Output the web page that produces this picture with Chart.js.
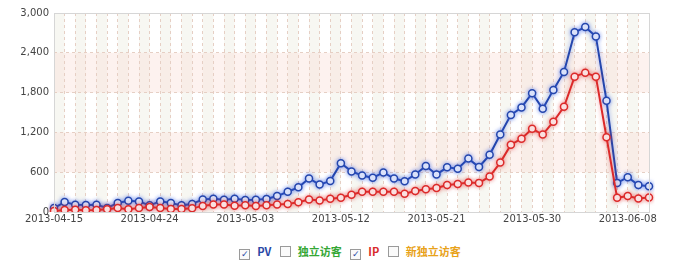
<!DOCTYPE html>
<html>
<head>
<meta charset="utf-8">
<script src="https://cdn.jsdelivr.net/npm/chart.js@4.4.1/dist/chart.umd.min.js"></script>
<style>
  html, body { margin: 0; padding: 0; background: #fff; }
  #wrap { position: relative; width: 700px; height: 226px; }
  #legend {
    position: absolute; top: 243px; left: 0; width: 700px; text-align: center;
    font-family: "Noto Sans CJK SC", "DejaVu Sans", sans-serif; font-size: 11px; font-weight: bold;
  }
  #legend .item { margin: 0 3px; white-space: nowrap; }
  #legend .box {
    display: inline-block; width: 9px; height: 9px; border: 1px solid #9a9a9a; background: #fafafa;
    margin-right: 7px; vertical-align: -1px; font-size: 9px; line-height: 9px; text-align: center;
    color: #2a47a6; font-family: "DejaVu Sans", sans-serif; font-weight: normal;
  }
</style>
</head>
<body>
<div id="wrap"><canvas id="chart"></canvas></div>
<div id="legend">
  <span class="item" style="color:#2a47a6"><span class="box">✓</span>PV</span>
  <span class="item" style="color:#35a735"><span class="box"></span>独立访客</span>
  <span class="item" style="color:#d92b2b"><span class="box">✓</span>IP</span>
  <span class="item" style="color:#e8a21a"><span class="box"></span>新独立访客</span>
</div>
<script>
// daily dates, 2013-04-15 .. 2013-06-10
const dates = [
  "2013-04-15", "2013-04-16", "2013-04-17", "2013-04-18", "2013-04-19", "2013-04-20", "2013-04-21", "2013-04-22",
  "2013-04-23", "2013-04-24", "2013-04-25", "2013-04-26", "2013-04-27", "2013-04-28", "2013-04-29", "2013-04-30",
  "2013-05-01", "2013-05-02", "2013-05-03", "2013-05-04", "2013-05-05", "2013-05-06", "2013-05-07", "2013-05-08",
  "2013-05-09", "2013-05-10", "2013-05-11", "2013-05-12", "2013-05-13", "2013-05-14", "2013-05-15", "2013-05-16",
  "2013-05-17", "2013-05-18", "2013-05-19", "2013-05-20", "2013-05-21", "2013-05-22", "2013-05-23", "2013-05-24",
  "2013-05-25", "2013-05-26", "2013-05-27", "2013-05-28", "2013-05-29", "2013-05-30", "2013-05-31", "2013-06-01",
  "2013-06-02", "2013-06-03", "2013-06-04", "2013-06-05", "2013-06-06", "2013-06-07", "2013-06-08", "2013-06-09",
  "2013-06-10"
]

const pvValues = [
  60, 150, 110, 105, 110, 60, 135, 170, 160, 100, 160, 135, 100, 120, 190, 200,
  185, 200, 180, 185, 195, 240, 306, 372, 505, 413, 469, 734, 612, 551, 515, 597,
  505, 464, 566, 694, 566, 673, 653, 805, 678, 862, 1168, 1464, 1576, 1790, 1556, 1841,
  2111, 2708, 2789, 2647, 1678, 439, 525, 408, 387
]

const ipValues = [
  15, 30, 35, 25, 30, 40, 60, 40, 60, 75, 60, 45, 45, 55, 92, 112,
  112, 95, 102, 92, 102, 112, 122, 148, 189, 174, 199, 214, 260, 306, 306, 306,
  306, 275, 316, 342, 362, 408, 423, 445, 439, 535, 745, 1014, 1106, 1254, 1168, 1361,
  1586, 2040, 2101, 2040, 1127, 214, 240, 204, 219
]

const yTicks = [0, 600, 1200, 1800, 2400, 3000]
const labelEvery = 9

// background stripes: shaded day columns and pink value bands
const bandsPlugin = {
  id: "bands",
  beforeDraw(chart) {
    const { ctx, chartArea, scales } = chart
    const x = scales.x, y = scales.y
    ctx.save()
    ctx.fillStyle = "#f7f7f2"
    for (let i = 0; i < dates.length - 1; i += 2) {
      const x0 = x.getPixelForValue(i), x1 = x.getPixelForValue(i + 1)
      ctx.fillRect(x0, chartArea.top, x1 - x0, chartArea.bottom - chartArea.top)
    }
    ctx.fillStyle = "rgba(250, 222, 214, 0.4)"
    for (let k = 1; k < yTicks.length - 1; k += 2) {
      const y0 = y.getPixelForValue(yTicks[k + 1]), y1 = y.getPixelForValue(yTicks[k])
      ctx.fillRect(chartArea.left, y0, chartArea.right - chartArea.left, y1 - y0)
    }
    ctx.restore()
  },
  afterDraw(chart) {
    // thin solid frame round the plot
    const { ctx, chartArea } = chart
    ctx.save()
    ctx.strokeStyle = "#d6d6d6"
    ctx.lineWidth = 1
    ctx.strokeRect(chartArea.left + 0.5, chartArea.top + 0.5, chartArea.right - chartArea.left, chartArea.bottom - chartArea.top)
    ctx.restore()
  },
}

// soft glow under the lines
const glowPlugin = {
  id: "glow",
  beforeDatasetDraw(chart, args) {
    const ctx = chart.ctx
    ctx.save()
    ctx.shadowColor = args.index === 0 ? "rgba(60, 100, 230, 0.6)" : "rgba(230, 60, 60, 0.5)"
    ctx.shadowBlur = 4
  },
  afterDatasetDraw(chart) {
    chart.ctx.restore()
  },
}

new Chart(document.getElementById("chart"), {
  type: "line",
  data: {
    labels: dates,
    datasets: [
      {
        label: "PV",
        data: pvValues,
        borderColor: "#2446ad",
        borderWidth: 2,
        pointBackgroundColor: "#fff",
        pointBorderColor: "#2446ad",
        pointBorderWidth: 1.5,
        pointRadius: 3.5,
        tension: 0,
        order: 1,
      },
      {
        label: "IP",
        data: ipValues,
        borderColor: "#dc2a2a",
        borderWidth: 2,
        pointBackgroundColor: "#fff",
        pointBorderColor: "#dc2a2a",
        pointBorderWidth: 1.5,
        pointRadius: 3.5,
        tension: 0,
        order: 0,
      },
    ],
  },
  options: {
    responsive: true,
    maintainAspectRatio: false,
    animation: false,
    layout: { padding: { top: 13, right: 51, left: 0, bottom: 0 } },
    plugins: { legend: { display: false }, tooltip: { enabled: false } },
    scales: {
      x: {
        offset: false,
        grid: { color: "#e6cfc4", drawTicks: false, tickLength: 0 },
        border: { display: false, dash: [3, 3] },
        ticks: {
          autoSkip: false,
          maxRotation: 0,
          padding: 1,
          color: "#444",
          font: { family: "DejaVu Sans", size: 10 },
          callback: (v, i) => (i % labelEvery === 0 ? dates[i] : ""),
        },
      },
      y: {
        min: 0,
        max: 3000,
        afterFit: (s) => { s.width = 54 },
        afterBuildTicks: (s) => { s.ticks = yTicks.map((v) => ({ value: v })) },
        grid: { color: "#e6cfc4", drawTicks: false },
        border: { display: false, dash: [3, 3] },
        ticks: {
          padding: 5,
          color: "#444",
          font: { family: "DejaVu Sans", size: 10 },
          callback: (v) => v.toLocaleString("en-US"),
        },
      },
    },
  },
  plugins: [bandsPlugin, glowPlugin],
})
</script>
</body>
</html>
